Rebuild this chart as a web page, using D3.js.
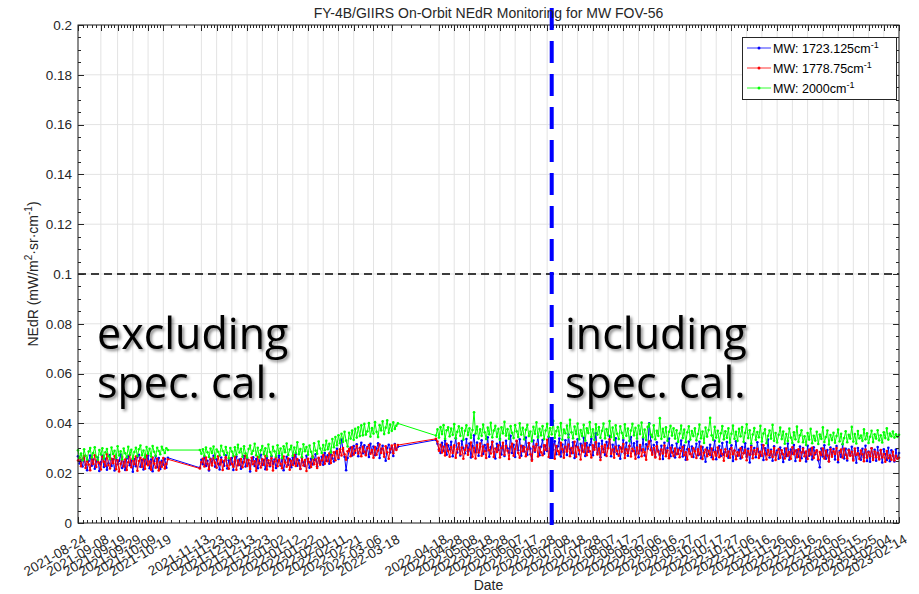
<!DOCTYPE html>
<html>
<head>
<meta charset="utf-8">
<script src="https://cdn.jsdelivr.net/npm/d3@7"></script>
<style>
  body { margin: 0; background: #fff; }
  svg { display: block; }
  text { font-family: "Liberation Sans", Arial, Helvetica, sans-serif; }
</style>
</head>
<body>
<svg id="chart" width="919" height="594"></svg>
<script>
// Observation segments: each list below holds one value per day starting at its segment date.
const segmentStarts = ['2021-08-24', '2021-11-12', '2022-04-16'];

// MW 1723.125 cm-1
const blue1 = [.0268,.0239,.0252,.0227,.0261,.0233,.0212,.0249,.0271,.0230,
.0255,.0218,.0247,.0263,.0209,.0244,.0270,.0225,.0258,.0214,
.0240,.0273,.0229,.0256,.0211,.0262,.0236,.0250,.0275,.0221,
.0246,.0213,.0259,.0268,.0232,.0251,.0206,.0257,.0228,.0266,
.0274,.0226,.0253,.0215,.0264,.0238,.0272,.0220,.0255,.0208,
.0247,.0269,.0224,.0261,.0217,.0250,.0234,.0258,.0222,.0262];
const blue2 = [.0222,.0254,.0236,.0265,.0229,.0250,.0211,.0258,.0241,.0270,
.0226,.0256,.0238,.0215,.0263,.0245,.0230,.0272,.0219,.0252,
.0235,.0261,.0213,.0247,.0267,.0232,.0255,.0218,.0243,.0269,
.0227,.0259,.0240,.0207,.0251,.0264,.0229,.0257,.0220,.0246,
.0274,.0233,.0253,.0216,.0262,.0241,.0228,.0268,.0237,.0255,
.0221,.0249,.0271,.0231,.0260,.0212,.0245,.0266,.0234,.0256,
.0224,.0263,.0239,.0278,.0230,.0252,.0217,.0261,.0243,.0229,
.0270,.0246,.0222,.0258,.0235,.0253,.0276,.0228,.0259,.0240,
.0266,.0234,.0281,.0249,.0272,.0238,.0287,.0260,.0247,.0283,
.0298,.0257,.0285,.0335,.0294,.0266,.0212,.0261,.0290,.0303,
.0271,.0309,.0282,.0316,.0268,.0301,.0322,.0280,.0312,.0276,
.0305,.0265,.0318,.0284,.0307,.0272,.0299,.0320,.0261,.0296,
.0310,.0278,.0250,.0301,.0314,.0283,.0305,.0269,.0317,.0297,
.0306];
const blue3 = [.0334,.0318,.0296,.0281,.0322,.0290,.0331,.0274,.0312,.0295,
.0326,.0268,.0305,.0340,.0283,.0317,.0271,.0329,.0301,.0280,
.0337,.0288,.0319,.0263,.0309,.0352,.0284,.0323,.0270,.0306,
.0332,.0277,.0313,.0290,.0344,.0266,.0304,.0327,.0285,.0259,
.0318,.0293,.0338,.0275,.0310,.0269,.0330,.0299,.0282,.0350,
.0281,.0314,.0265,.0328,.0292,.0336,.0270,.0309,.0287,.0343,
.0274,.0320,.0298,.0255,.0331,.0286,.0312,.0347,.0272,.0306,
.0333,.0278,.0311,.0289,.0345,.0262,.0322,.0294,.0328,.0276,
.0308,.0339,.0267,.0315,.0284,.0332,.0273,.0355,.0297,.0280,
.0324,.0261,.0309,.0336,.0276,.0318,.0288,.0342,.0269,.0321,
.0286,.0313,.0338,.0272,.0303,.0360,.0281,.0319,.0264,.0330,
.0295,.0273,.0325,.0302,.0349,.0268,.0314,.0284,.0340,.0277,
.0310,.0258,.0299,.0333,.0280,.0322,.0270,.0308,.0345,.0289,
.0320,.0275,.0327,.0264,.0307,.0291,.0338,.0271,.0316,.0298,
.0400,.0330,.0281,.0313,.0266,.0324,.0290,.0274,.0310,.0257,
.0322,.0282,.0301,.0339,.0268,.0312,.0287,.0263,.0319,.0278,
.0300,.0331,.0267,.0311,.0254,.0296,.0327,.0276,.0307,.0265,
.0291,.0318,.0272,.0326,.0260,.0305,.0283,.0246,.0302,.0277,
.0314,.0264,.0293,.0330,.0256,.0289,.0309,.0269,.0321,.0274,
.0285,.0325,.0262,.0297,.0312,.0249,.0290,.0328,.0270,.0294,
.0259,.0305,.0280,.0320,.0266,.0298,.0243,.0311,.0276,.0301,
.0264,.0324,.0285,.0269,.0314,.0253,.0300,.0275,.0335,.0263,
.0294,.0250,.0308,.0273,.0291,.0258,.0303,.0279,.0245,.0299,
.0268,.0319,.0254,.0295,.0278,.0313,.0249,.0292,.0266,.0307,
.0260,.0301,.0281,.0247,.0310,.0270,.0298,.0255,.0304,.0276,
.0290,.0252,.0224,.0299,.0267,.0312,.0258,.0293,.0248,.0303,
.0274,.0297,.0255,.0309,.0244,.0289,.0265,.0316,.0259,.0298,
.0251,.0295,.0272,.0306,.0257,.0290,.0242,.0301,.0276,.0254,
.0298,.0263,.0310,.0249,.0287,.0246,.0300,.0261,.0294,.0250,
.0305,.0258,.0291,.0243,.0296,.0276,.0253,.0302,.0248,.0292,
.0270,.0247,.0295,.0259,.0281];

// MW 1778.75 cm-1
const red1 = [.0251,.0263,.0228,.0257,.0270,.0221,.0248,.0235,.0212,.0264,
.0237,.0272,.0225,.0253,.0241,.0215,.0266,.0246,.0229,.0276,
.0233,.0219,.0258,.0240,.0269,.0216,.0252,.0207,.0238,.0265,
.0227,.0255,.0213,.0244,.0273,.0224,.0259,.0236,.0267,.0210,
.0249,.0262,.0226,.0256,.0218,.0271,.0232,.0247,.0214,.0263,
.0239,.0222,.0258,.0211,.0244,.0226,.0261,.0219,.0237,.0256];
const red2 = [.0219,.0244,.0258,.0227,.0263,.0238,.0216,.0255,.0231,.0261,
.0242,.0222,.0268,.0235,.0254,.0213,.0249,.0264,.0230,.0218,
.0259,.0237,.0226,.0266,.0214,.0251,.0233,.0257,.0224,.0245,
.0271,.0229,.0253,.0217,.0262,.0236,.0248,.0210,.0265,.0240,
.0223,.0256,.0234,.0269,.0215,.0252,.0232,.0260,.0211,.0247,
.0264,.0228,.0254,.0237,.0220,.0267,.0243,.0226,.0259,.0214,
.0250,.0233,.0272,.0229,.0257,.0239,.0218,.0264,.0231,.0253,
.0209,.0258,.0244,.0225,.0268,.0236,.0255,.0221,.0262,.0234,
.0252,.0273,.0238,.0265,.0248,.0280,.0241,.0271,.0284,.0252,
.0289,.0262,.0296,.0271,.0301,.0276,.0254,.0288,.0297,.0268,
.0304,.0275,.0290,.0309,.0279,.0298,.0268,.0306,.0286,.0272,
.0300,.0313,.0278,.0293,.0262,.0305,.0274,.0291,.0315,.0281,
.0299,.0266,.0308,.0284,.0258,.0296,.0311,.0280,.0314,.0293,
.0313];
const red3 = [.0338,.0327,.0290,.0314,.0283,.0306,.0271,.0318,.0289,.0266,
.0305,.0281,.0312,.0262,.0296,.0320,.0276,.0303,.0258,.0293,
.0311,.0274,.0295,.0323,.0266,.0302,.0259,.0313,.0283,.0319,
.0270,.0307,.0288,.0261,.0316,.0292,.0279,.0325,.0265,.0299,
.0285,.0312,.0263,.0301,.0322,.0274,.0309,.0290,.0257,.0306,
.0318,.0270,.0297,.0330,.0281,.0262,.0310,.0288,.0304,.0268,
.0296,.0321,.0276,.0250,.0307,.0291,.0317,.0267,.0303,.0284,
.0272,.0312,.0293,.0334,.0265,.0300,.0282,.0315,.0258,.0309,
.0289,.0275,.0322,.0296,.0262,.0306,.0287,.0315,.0268,.0301,
.0281,.0326,.0266,.0305,.0292,.0255,.0311,.0285,.0319,.0272,
.0303,.0288,.0263,.0312,.0294,.0324,.0275,.0299,.0253,.0308,
.0284,.0314,.0269,.0300,.0336,.0278,.0295,.0262,.0306,.0289,
.0270,.0304,.0286,.0317,.0261,.0296,.0280,.0310,.0267,.0298,
.0289,.0258,.0303,.0279,.0313,.0268,.0296,.0284,.0254,.0306,
.0327,.0293,.0274,.0301,.0263,.0308,.0286,.0257,.0295,.0279,
.0311,.0268,.0291,.0260,.0302,.0283,.0269,.0299,.0276,.0294,
.0264,.0290,.0305,.0272,.0284,.0255,.0297,.0278,.0266,.0300,
.0288,.0261,.0296,.0275,.0307,.0257,.0282,.0295,.0268,.0290,
.0273,.0299,.0256,.0285,.0270,.0303,.0264,.0293,.0277,.0250,
.0296,.0269,.0287,.0262,.0301,.0276,.0291,.0256,.0284,.0271,
.0300,.0263,.0281,.0294,.0252,.0289,.0274,.0305,.0260,.0292,
.0275,.0298,.0261,.0286,.0270,.0312,.0279,.0255,.0293,.0272,
.0288,.0265,.0301,.0253,.0283,.0297,.0262,.0292,.0276,.0259,
.0299,.0270,.0285,.0258,.0304,.0276,.0291,.0264,.0296,.0250,
.0283,.0298,.0268,.0287,.0257,.0294,.0275,.0302,.0261,.0282,
.0292,.0256,.0285,.0273,.0299,.0259,.0290,.0271,.0247,.0296,
.0266,.0288,.0277,.0301,.0254,.0283,.0295,.0263,.0298,.0274,
.0259,.0292,.0270,.0286,.0251,.0299,.0273,.0280,.0257,.0291,
.0276,.0248,.0295,.0262,.0284,.0268,.0300,.0253,.0287,.0264,
.0282,.0255,.0293,.0263,.0277,.0246,.0289,.0260,.0272,.0254,
.0286,.0251,.0270,.0258,.0262];

// MW 2000 cm-1
const green1 = [.0292,.0261,.0279,.0252,.0296,.0270,.0255,.0287,.0301,.0263,
.0281,.0304,.0266,.0254,.0293,.0275,.0300,.0259,.0284,.0297,
.0268,.0257,.0303,.0277,.0290,.0262,.0308,.0271,.0288,.0256,
.0299,.0280,.0264,.0306,.0274,.0294,.0258,.0285,.0302,.0269,
.0296,.0311,.0272,.0291,.0263,.0305,.0278,.0298,.0267,.0309,
.0286,.0270,.0302,.0289,.0276,.0306,.0293,.0281,.0300,.0293];
const green2 = [.0293,.0278,.0296,.0270,.0303,.0284,.0265,.0299,.0281,.0307,
.0262,.0295,.0286,.0271,.0310,.0289,.0274,.0305,.0282,.0260,
.0301,.0287,.0269,.0304,.0275,.0314,.0283,.0298,.0266,.0308,
.0280,.0263,.0297,.0311,.0277,.0290,.0318,.0272,.0302,.0264,
.0292,.0309,.0276,.0300,.0268,.0315,.0285,.0271,.0306,.0288,
.0267,.0312,.0279,.0299,.0261,.0308,.0284,.0319,.0273,.0295,
.0310,.0270,.0303,.0282,.0324,.0276,.0297,.0265,.0316,.0288,
.0305,.0274,.0311,.0286,.0263,.0320,.0291,.0278,.0327,.0299,
.0281,.0313,.0292,.0330,.0296,.0318,.0283,.0337,.0304,.0345,
.0312,.0352,.0320,.0358,.0326,.0366,.0331,.0307,.0362,.0339,
.0371,.0334,.0378,.0343,.0384,.0349,.0392,.0352,.0398,.0355,
.0368,.0401,.0347,.0381,.0359,.0405,.0366,.0345,.0393,.0372,
.0408,.0357,.0383,.0412,.0362,.0395,.0370,.0404,.0378,.0391,
.0400];
const green3 = [.0351,.0376,.0343,.0385,.0357,.0393,.0338,.0372,.0384,.0348,
.0379,.0354,.0397,.0340,.0366,.0388,.0350,.0381,.0335,.0370,
.0392,.0353,.0380,.0342,.0373,.0445,.0359,.0387,.0339,.0376,
.0350,.0395,.0364,.0337,.0383,.0356,.0402,.0344,.0371,.0390,
.0346,.0378,.0334,.0384,.0360,.0406,.0351,.0377,.0338,.0389,
.0362,.0341,.0393,.0368,.0345,.0400,.0355,.0382,.0336,.0374,
.0394,.0349,.0367,.0328,.0386,.0358,.0404,.0343,.0378,.0352,
.0389,.0337,.0371,.0398,.0347,.0381,.0356,.0410,.0342,.0369,
.0385,.0351,.0401,.0335,.0375,.0360,.0391,.0344,.0414,.0364,
.0340,.0387,.0357,.0399,.0336,.0373,.0349,.0394,.0331,.0380,
.0361,.0405,.0346,.0376,.0334,.0396,.0355,.0385,.0342,.0370,
.0399,.0340,.0377,.0352,.0409,.0345,.0383,.0333,.0392,.0358,
.0337,.0388,.0362,.0341,.0396,.0350,.0379,.0329,.0371,.0398,
.0352,.0382,.0339,.0391,.0357,.0403,.0344,.0375,.0333,.0386,
.0398,.0355,.0345,.0392,.0336,.0370,.0350,.0421,.0338,.0378,
.0346,.0384,.0330,.0366,.0390,.0351,.0380,.0339,.0372,.0326,
.0359,.0391,.0341,.0375,.0324,.0364,.0388,.0335,.0369,.0349,
.0380,.0332,.0357,.0395,.0340,.0367,.0321,.0383,.0347,.0373,
.0422,.0352,.0334,.0386,.0343,.0370,.0327,.0360,.0389,.0336,
.0368,.0342,.0380,.0322,.0358,.0391,.0338,.0366,.0330,.0378,
.0348,.0385,.0326,.0362,.0396,.0341,.0372,.0319,.0355,.0381,
.0334,.0365,.0344,.0390,.0327,.0359,.0376,.0320,.0350,.0371,
.0339,.0394,.0330,.0361,.0323,.0354,.0383,.0337,.0367,.0318,
.0357,.0329,.0379,.0343,.0321,.0364,.0336,.0387,.0326,.0352,
.0372,.0324,.0348,.0313,.0361,.0335,.0378,.0320,.0350,.0331,
.0366,.0317,.0355,.0338,.0384,.0325,.0345,.0371,.0315,.0353,
.0333,.0362,.0322,.0349,.0375,.0328,.0358,.0316,.0341,.0368,
.0324,.0354,.0339,.0386,.0327,.0357,.0319,.0369,.0340,.0351,
.0330,.0376,.0336,.0360,.0321,.0346,.0370,.0325,.0356,.0339,
.0372,.0332,.0352,.0323,.0364,.0341,.0380,.0335,.0359,.0348,
.0367,.0343,.0356,.0346,.0354];

const seriesNames = ['MW: 1723.125cm', 'MW: 1778.75cm', 'MW: 2000cm'];
const seriesColors = ['#0000ff', '#ff0000', '#00ff00'];

const xTickLabels = ['2021-08-24','2021-09-08','2021-09-19','2021-09-29','2021-10-09','2021-10-19',
  '2021-11-13','2021-11-23','2021-12-03','2021-12-13','2021-12-23','2022-01-02','2022-01-12',
  '2022-01-22','2022-02-01','2022-02-11','2022-02-21','2022-03-06','2022-03-18',
  '2022-04-18','2022-04-28','2022-05-08','2022-05-18','2022-05-28','2022-06-07','2022-06-17',
  '2022-06-28','2022-07-08','2022-07-18','2022-07-28','2022-08-07','2022-08-17','2022-08-27',
  '2022-09-06','2022-09-16','2022-09-27','2022-10-07','2022-10-17','2022-10-27','2022-11-06',
  '2022-11-16','2022-11-26','2022-12-06','2022-12-16','2022-12-26','2023-01-05','2023-01-15',
  '2023-01-25','2023-02-04','2023-02-14'];
const yTicks = [0, 0.02, 0.04, 0.06, 0.08, 0.1, 0.12, 0.14, 0.16, 0.18, 0.2];
const nedrLimit = 0.1;
const calibrationSwitch = '2022-07-01';
const periodNotes = [['excluding', 'spec. cal.'], ['including', 'spec. cal.']];

const parse = d3.utcParse('%Y-%m-%d');
const svg = d3.select('#chart');
const W = 919, H = 594;
const plot = { left: 78, right: 899, top: 25, bottom: 523 };

const x = d3.scaleUtc()
  .domain([parse('2021-08-24'), parse('2023-02-14')])
  .range([plot.left, plot.right]);
const y = d3.scaleLinear().domain([0, 0.2]).range([plot.bottom, plot.top]);

function buildSeries(segments) {
  return segments.flatMap((vals, s) => {
    const start = parse(segmentStarts[s]);
    return vals.map((v, i) => ({ date: d3.utcDay.offset(start, i), value: v }));
  });
}
const series = [
  buildSeries([blue1, blue2, blue3]),
  buildSeries([red1, red2, red3]),
  buildSeries([green1, green2, green3])
];

svg.append('rect').attr('width', W).attr('height', H).attr('fill', '#fff');

const majorDates = xTickLabels.map(parse);
const axisColor = '#262626';
const gridColor = '#e3e3e3';

// grid
const grid = svg.append('g');
grid.selectAll('line.vx').data(majorDates).join('line')
  .attr('x1', d => x(d)).attr('x2', d => x(d))
  .attr('y1', plot.top).attr('y2', plot.bottom)
  .attr('stroke', gridColor).attr('stroke-width', 1);
grid.selectAll('line.hy').data(yTicks).join('line')
  .attr('x1', plot.left).attr('x2', plot.right)
  .attr('y1', d => y(d)).attr('y2', d => y(d))
  .attr('stroke', gridColor).attr('stroke-width', 1);

// data lines with point markers
const line = d3.line().x(d => x(d.date)).y(d => y(d.value));
series.forEach((data, k) => {
  const g = svg.append('g');
  g.append('path').datum(data).attr('d', line)
    .attr('fill', 'none').attr('stroke', seriesColors[k]).attr('stroke-width', 1);
  g.selectAll('circle').data(data).join('circle')
    .attr('cx', d => x(d.date)).attr('cy', d => y(d.value)).attr('r', 1.3)
    .attr('fill', seriesColors[k]);
});

// NEdR requirement level
svg.append('line')
  .attr('x1', plot.left).attr('x2', plot.right)
  .attr('y1', y(nedrLimit)).attr('y2', y(nedrLimit))
  .attr('stroke', '#000').attr('stroke-width', 1.6).attr('stroke-dasharray', '8,5');

// axes box
svg.append('rect')
  .attr('x', plot.left).attr('y', plot.top)
  .attr('width', plot.right - plot.left).attr('height', plot.bottom - plot.top)
  .attr('fill', 'none').attr('stroke', axisColor).attr('stroke-width', 1);

// x ticks: major at labelled dates, four minor subdivisions between them
const minorDates = [];
for (let i = 0; i < majorDates.length - 1; i++) {
  const a = +majorDates[i], b = +majorDates[i + 1];
  for (let j = 1; j < 5; j++) minorDates.push(new Date(a + (b - a) * j / 5));
}
const ticks = svg.append('g').attr('stroke', axisColor).attr('stroke-width', 1);
[[majorDates, 6], [minorDates, 3]].forEach(([dates, len]) => {
  dates.forEach(d => {
    const xx = Math.round(x(d)) + 0.5;
    ticks.append('line').attr('x1', xx).attr('x2', xx).attr('y1', plot.bottom).attr('y2', plot.bottom - len);
    ticks.append('line').attr('x1', xx).attr('x2', xx).attr('y1', plot.top).attr('y2', plot.top + len);
  });
});
// y ticks every 0.005
d3.range(0, 0.2001, 0.005).forEach((v, i) => {
  const len = i % 4 === 0 ? 6 : 3;
  const yy = Math.round(y(v)) + 0.5;
  ticks.append('line').attr('x1', plot.left).attr('x2', plot.left + len).attr('y1', yy).attr('y2', yy);
  ticks.append('line').attr('x1', plot.right).attr('x2', plot.right - len).attr('y1', yy).attr('y2', yy);
});

// tick labels
svg.append('g').selectAll('text').data(yTicks).join('text')
  .attr('x', plot.left - 6).attr('y', d => y(d)).attr('dy', '0.36em')
  .attr('text-anchor', 'end').attr('font-size', 13.5).attr('fill', axisColor)
  .text(d => String(+d.toFixed(2)));

svg.append('g').selectAll('text').data(majorDates).join('text')
  .attr('transform', d => `translate(${x(d) + 9},${plot.bottom + 19}) rotate(-30)`)
  .attr('text-anchor', 'end').attr('font-size', 13.5).attr('fill', axisColor)
  .text((d, i) => xTickLabels[i]);

// calibration switch marker
const xs = x(parse(calibrationSwitch));
svg.append('line')
  .attr('x1', xs).attr('x2', xs).attr('y1', 8).attr('y2', plot.bottom + 6)
  .attr('stroke', '#0000ff').attr('stroke-width', 4).attr('stroke-dasharray', '22,11');

// title and axis labels
svg.append('text').attr('x', (plot.left + plot.right) / 2).attr('y', 18)
  .attr('text-anchor', 'middle').attr('font-size', 14).attr('fill', axisColor)
  .text('FY-4B/GIIRS On-Orbit NEdR Monitoring for MW FOV-56');
svg.append('text').attr('x', (plot.left + plot.right) / 2).attr('y', 590)
  .attr('text-anchor', 'middle').attr('font-size', 14).attr('fill', axisColor).text('Date');

const yl = svg.append('text')
  .attr('transform', `translate(38,${(plot.top + plot.bottom) / 2}) rotate(-90)`)
  .attr('text-anchor', 'middle').attr('font-size', 14).attr('fill', axisColor);
yl.append('tspan').text('NEdR (mW/m');
yl.append('tspan').attr('font-size', 10).attr('dy', -6).text('2');
yl.append('tspan').attr('dy', 6).text('·sr·cm');
yl.append('tspan').attr('font-size', 10).attr('dy', -6).text('-1');
yl.append('tspan').attr('dy', 6).text(')');

// legend
const lg = svg.append('g');
lg.append('rect').attr('x', 742.5).attr('y', 37.5).attr('width', 154).attr('height', 62)
  .attr('fill', '#fff').attr('stroke', axisColor).attr('stroke-width', 1);
seriesNames.forEach((name, k) => {
  const cy = 48 + k * 20;
  lg.append('line').attr('x1', 747).attr('x2', 771).attr('y1', cy).attr('y2', cy)
    .attr('stroke', seriesColors[k]).attr('stroke-width', 0.8);
  lg.append('circle').attr('cx', 759).attr('cy', cy).attr('r', 1.5).attr('fill', seriesColors[k]);
  const t = lg.append('text').attr('x', 773).attr('y', cy).attr('dy', '0.36em')
    .attr('font-size', 12.5).attr('fill', '#000');
  t.append('tspan').text(name);
  t.append('tspan').attr('font-size', 9).attr('dy', -5).text('-1');
});

// period annotations, two lines each, left of and right of the switch date
const ann = svg.append('g')
  .style('filter', 'drop-shadow(2px 2px 1.5px rgba(0,0,0,0.45))');
[[97, periodNotes[0]], [565, periodNotes[1]]].forEach(([tx, lines]) => {
  const t = ann.append('text').attr('x', tx).attr('y', 349).attr('fill', '#000')
    .style('font-family', '"Open Sans", "Noto Sans", sans-serif')
    .style('font-size', '43px');
  lines.forEach((s, i) => t.append('tspan').attr('x', tx).attr('dy', i ? 49 : 0).text(s));
});
</script>
</body>
</html>
